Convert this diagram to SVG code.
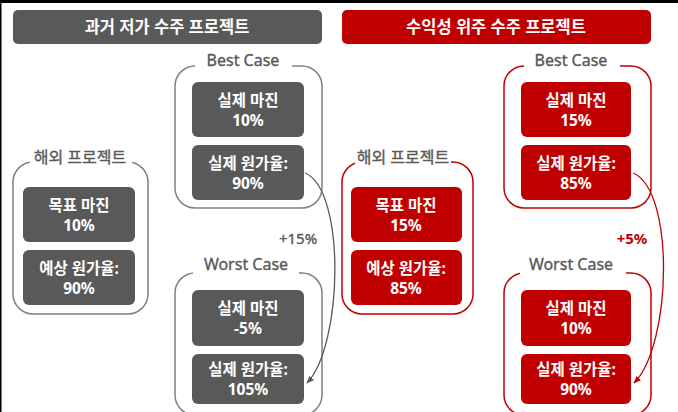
<svg xmlns="http://www.w3.org/2000/svg" width="678" height="412" viewBox="0 0 678 412">
<defs>
<style>
.hdr{font-family:"Noto Sans","Noto Sans CJK KR",sans-serif;font-size:16.5px;font-weight:bold;fill:#fff;text-anchor:middle}
.bx{font-family:"Noto Sans","Noto Sans CJK KR",sans-serif;font-size:15.5px;font-weight:bold;fill:#fff;text-anchor:middle}
.lbl{font-family:"Noto Sans","Noto Sans CJK KR",sans-serif;font-size:16px;fill:#595959;stroke:#595959;stroke-width:0.35;text-anchor:middle}
.g{fill:#595959}
.r{fill:#C00000}
.bg{fill:none;stroke:#808080;stroke-width:1.5}
.br{fill:none;stroke:#C00000;stroke-width:1.5}
.gap{fill:#fff}
</style>
<marker id="ag" viewBox="0 0 10 10" refX="9" refY="5" markerWidth="6" markerHeight="6" orient="auto"><path d="M0,1 L10,5 L0,9 z" fill="#595959"/></marker>
<marker id="ar" viewBox="0 0 10 10" refX="9" refY="5" markerWidth="6" markerHeight="6" orient="auto"><path d="M0,1 L10,5 L0,9 z" fill="#C00000"/></marker>
</defs>
<rect x="0" y="0" width="678" height="412" fill="#fff"/>
<rect x="0" y="0" width="678" height="3" fill="#000"/>
<rect x="0" y="0" width="1.5" height="412" fill="#000"/>

<g id="hdr-left"><rect x="13" y="10" width="309" height="34" rx="5" class="g"/><text x="167" y="33" class="hdr">과거 저가 수주 프로젝트</text></g>
<g id="hdr-right"><rect x="342" y="10" width="309" height="34" rx="5" class="r"/><text x="496" y="33" class="hdr">수익성 위주 수주 프로젝트</text></g>

<g id="left-overseas">
<rect x="13" y="162" width="135" height="152" rx="20" class="bg"/>
<rect x="30" y="145" width="102" height="22" class="gap"/>
<text x="80" y="163" class="lbl">해외 프로젝트</text>
<rect x="23" y="187" width="112" height="55" rx="6" class="g"/>
<text x="79" y="210.5" class="bx">목표 마진<tspan x="79" dy="20">10%</tspan></text>
<rect x="23" y="250" width="112" height="55" rx="6" class="g"/>
<text x="79" y="273.5" class="bx">예상 원가율:<tspan x="79" dy="20">90%</tspan></text>
</g>

<g id="left-best">
<rect x="175" y="66" width="147" height="142" rx="20" class="bg"/>
<rect x="195" y="50" width="97" height="22" class="gap"/>
<text x="243" y="66" class="lbl">Best Case</text>
<rect x="192" y="82" width="112" height="55" rx="6" class="g"/>
<text x="248" y="105.5" class="bx">실제 마진<tspan x="248" dy="20">10%</tspan></text>
<rect x="192" y="145" width="112" height="55" rx="6" class="g"/>
<text x="248" y="168.5" class="bx">실제 원가율:<tspan x="248" dy="20">90%</tspan></text>
</g>

<g id="left-worst">
<rect x="175" y="273" width="147" height="142" rx="20" class="bg"/>
<rect x="193" y="255" width="106" height="24" class="gap"/>
<text x="246" y="270" class="lbl">Worst Case</text>
<rect x="192" y="290" width="112" height="56" rx="6" class="g"/>
<text x="248" y="313.5" class="bx">실제 마진<tspan x="248" dy="20">-5%</tspan></text>
<rect x="192" y="354" width="112" height="50" rx="6" class="g"/>
<text x="248" y="374.5" class="bx">실제 원가율:<tspan x="248" dy="20">105%</tspan></text>
</g>

<g id="right-overseas">
<rect x="342" y="162" width="131" height="152" rx="20" class="br"/>
<rect x="355" y="145" width="96" height="22" class="gap"/>
<text x="403" y="163" class="lbl">해외 프로젝트</text>
<rect x="351" y="187" width="111" height="55" rx="6" class="r"/>
<text x="406" y="210.5" class="bx">목표 마진<tspan x="406" dy="20">15%</tspan></text>
<rect x="351" y="250" width="111" height="55" rx="6" class="r"/>
<text x="406" y="273.5" class="bx">예상 원가율:<tspan x="406" dy="20">85%</tspan></text>
</g>

<g id="right-best">
<rect x="504" y="66" width="147" height="142" rx="20" class="br"/>
<rect x="524" y="50" width="96" height="22" class="gap"/>
<text x="571" y="66" class="lbl">Best Case</text>
<rect x="521" y="82" width="110" height="55" rx="6" class="r"/>
<text x="576" y="105.5" class="bx">실제 마진<tspan x="576" dy="20">15%</tspan></text>
<rect x="521" y="145" width="110" height="55" rx="6" class="r"/>
<text x="576" y="168.5" class="bx">실제 원가율:<tspan x="576" dy="20">85%</tspan></text>
</g>

<g id="right-worst">
<rect x="504" y="273" width="147" height="142" rx="20" class="br"/>
<rect x="520" y="255" width="106" height="24" class="gap"/>
<text x="571" y="270" class="lbl">Worst Case</text>
<rect x="521" y="290" width="110" height="56" rx="6" class="r"/>
<text x="576" y="313.5" class="bx">실제 마진<tspan x="576" dy="20">10%</tspan></text>
<rect x="521" y="354" width="110" height="50" rx="6" class="r"/>
<text x="576" y="374.5" class="bx">실제 원가율:<tspan x="576" dy="20">90%</tspan></text>
</g>

<g id="connectors">
<path d="M305,173 C346,190 343,345 307,383" fill="none" stroke="#595959" stroke-width="1.3" marker-end="url(#ag)"/>
<text x="298" y="244" class="lbl" style="font-size:15px">+15%</text>
<path d="M633,173 C675,190 672,345 634,383" fill="none" stroke="#C00000" stroke-width="1.3" marker-end="url(#ar)"/>
<text x="632" y="244" class="lbl" style="font-size:15px;fill:#C00000;stroke:#C00000;font-weight:bold;stroke-width:0">+5%</text>
</g>
</svg>
